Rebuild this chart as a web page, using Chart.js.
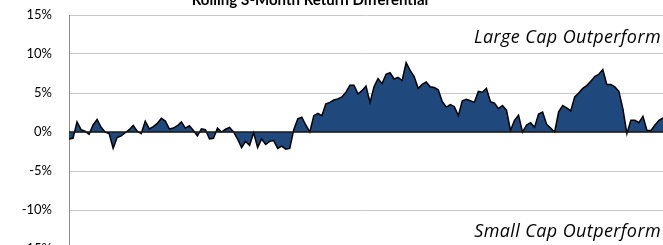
<!DOCTYPE html>
<html>
<head>
<meta charset="utf-8">
<script src="https://cdn.jsdelivr.net/npm/chart.js@4/dist/chart.umd.min.js"></script>
<style>
  html, body { margin: 0; padding: 0; background: #fff; overflow: hidden; }
  #wrap { position: absolute; left: 0; top: 0; width: 663px; height: 260px; }
</style>
</head>
<body>
<div id="wrap"><canvas id="c" width="663" height="260"></canvas></div>
<script>
const chartTitle = "Rolling 3-Month Return Differential";
const upperLabel = "Large Cap Outperform";
const lowerLabel = "Small Cap Outperform";
const yTicks = [-15, -10, -5, 0, 5, 10, 15];

// Rolling 3-month return differential (%), large cap minus small cap
const returnDiff = [
  -0.9, -0.8, 1.3, 0.3, 0.1, -0.3, 0.9, 1.6, 0.6, 0.0,
  -0.2, -2.1, -0.7, -0.5, -0.1, 0.3, 0.85, 0.1, -0.2, 1.4,
  0.4, 0.7, 1.1, 1.75, 1.4, 0.4, 0.5, 0.8, 1.3, 0.5,
  0.8, 0.2, -0.5, 0.4, 0.3, -0.9, -0.8, 0.5, 0.0, 0.35,
  0.6, 0.0, -0.9, -2.0, -1.2, -1.7, -0.1, -2.0, -0.9, -1.6,
  -1.2, -1.1, -2.1, -1.8, -2.2, -2.1, 0.3, 1.7, 1.9, 0.9,
  0.0, 2.1, 2.4, 2.1, 3.6, 3.8, 4.1, 4.25, 4.5, 5.1,
  6.0, 6.0, 4.9, 5.3, 5.9, 3.8, 5.8, 6.85, 6.2, 7.4,
  7.6, 6.8, 7.0, 6.6, 8.9, 7.9, 7.1, 5.6, 6.1, 6.4,
  5.8, 5.7, 5.4, 3.9, 3.2, 3.5, 3.25, 2.1, 4.0, 4.2,
  4.0, 3.8, 5.2, 5.1, 5.6, 3.9, 3.7, 3.0, 3.4, 2.8,
  0.2, 1.5, 2.15, 0.0, 0.9, 1.2, 0.6, 2.3, 2.55, 1.0,
  0.5, 0.0, 2.6, 3.4, 3.1, 2.7, 4.5, 5.0, 5.6, 5.95,
  6.5, 7.1, 7.4, 8.0, 6.1, 6.1, 5.8, 5.2, 3.0, -0.2,
  1.5, 1.5, 1.2, 2.0, 0.2, 0.2, 0.9, 1.5, 1.8
];
const periods = returnDiff.map((_, i) => String(i + 1));

const FONT = "Lato, 'Open Sans', sans-serif";
const NOTE_FONT = "'Open Sans', Lato, sans-serif";

const overlay = {
  id: 'overlay',
  afterDatasetsDraw(chart) {
    const ctx = chart.ctx, a = chart.chartArea, y = chart.scales.y;
    const y0 = y.getPixelForValue(0);
    ctx.save();
    ctx.strokeStyle = '#1a1a1a';
    ctx.lineWidth = 1.5;
    ctx.beginPath();
    ctx.moveTo(a.left, y0);
    ctx.lineTo(a.right, y0);
    ctx.stroke();
    ctx.restore();
  },
  afterDraw(chart) {
    const ctx = chart.ctx, a = chart.chartArea, y = chart.scales.y;
    ctx.save();
    ctx.fillStyle = '#000';
    ctx.font = "bold 15px " + FONT;
    ctx.textAlign = 'center';
    ctx.textBaseline = 'alphabetic';
    ctx.fillText(chartTitle, 310, 5);
    ctx.font = "italic 18px " + NOTE_FONT;
    if ('letterSpacing' in ctx) ctx.letterSpacing = '0.4px';
    ctx.textAlign = 'right';
    ctx.textBaseline = 'middle';
    ctx.fillText(upperLabel, a.right - 2, y.getPixelForValue(12.1));
    ctx.fillText(lowerLabel, a.right - 2, y.getPixelForValue(-12.8));
    ctx.restore();
  }
};

new Chart(document.getElementById('c'), {
  type: 'line',
  data: {
    labels: periods,
    datasets: [{
      data: returnDiff,
      fill: 'origin',
      backgroundColor: '#1F497D',
      borderColor: '#000000',
      borderWidth: 1.5,
      pointRadius: 0,
      tension: 0
    }]
  },
  options: {
    responsive: false,
    animation: false,
    devicePixelRatio: 1,
    layout: { padding: { top: 15, bottom: 11, left: 0, right: 0 } },
    plugins: { legend: { display: false }, title: { display: false }, tooltip: { enabled: false } },
    scales: {
      x: {
        type: 'category',
        display: false,
        offset: false
      },
      y: {
        min: -15, max: 15,
        afterFit(scale) { scale.width = 69; scale.paddingTop = 0; scale.paddingBottom = 0; },
        afterBuildTicks(scale) { scale.ticks = yTicks.map(v => ({ value: v })); },
        ticks: {
          padding: 17,
          color: '#000',
          font: { family: FONT, size: 13 },
          callback: v => v + '%'
        },
        grid: {
          drawTicks: false,
          color: '#c8c8c8',
          lineWidth: 1
        },
        border: { display: true, color: '#8c8c8c', width: 1 }
      }
    }
  },
  plugins: [overlay]
});
</script>
</body>
</html>
